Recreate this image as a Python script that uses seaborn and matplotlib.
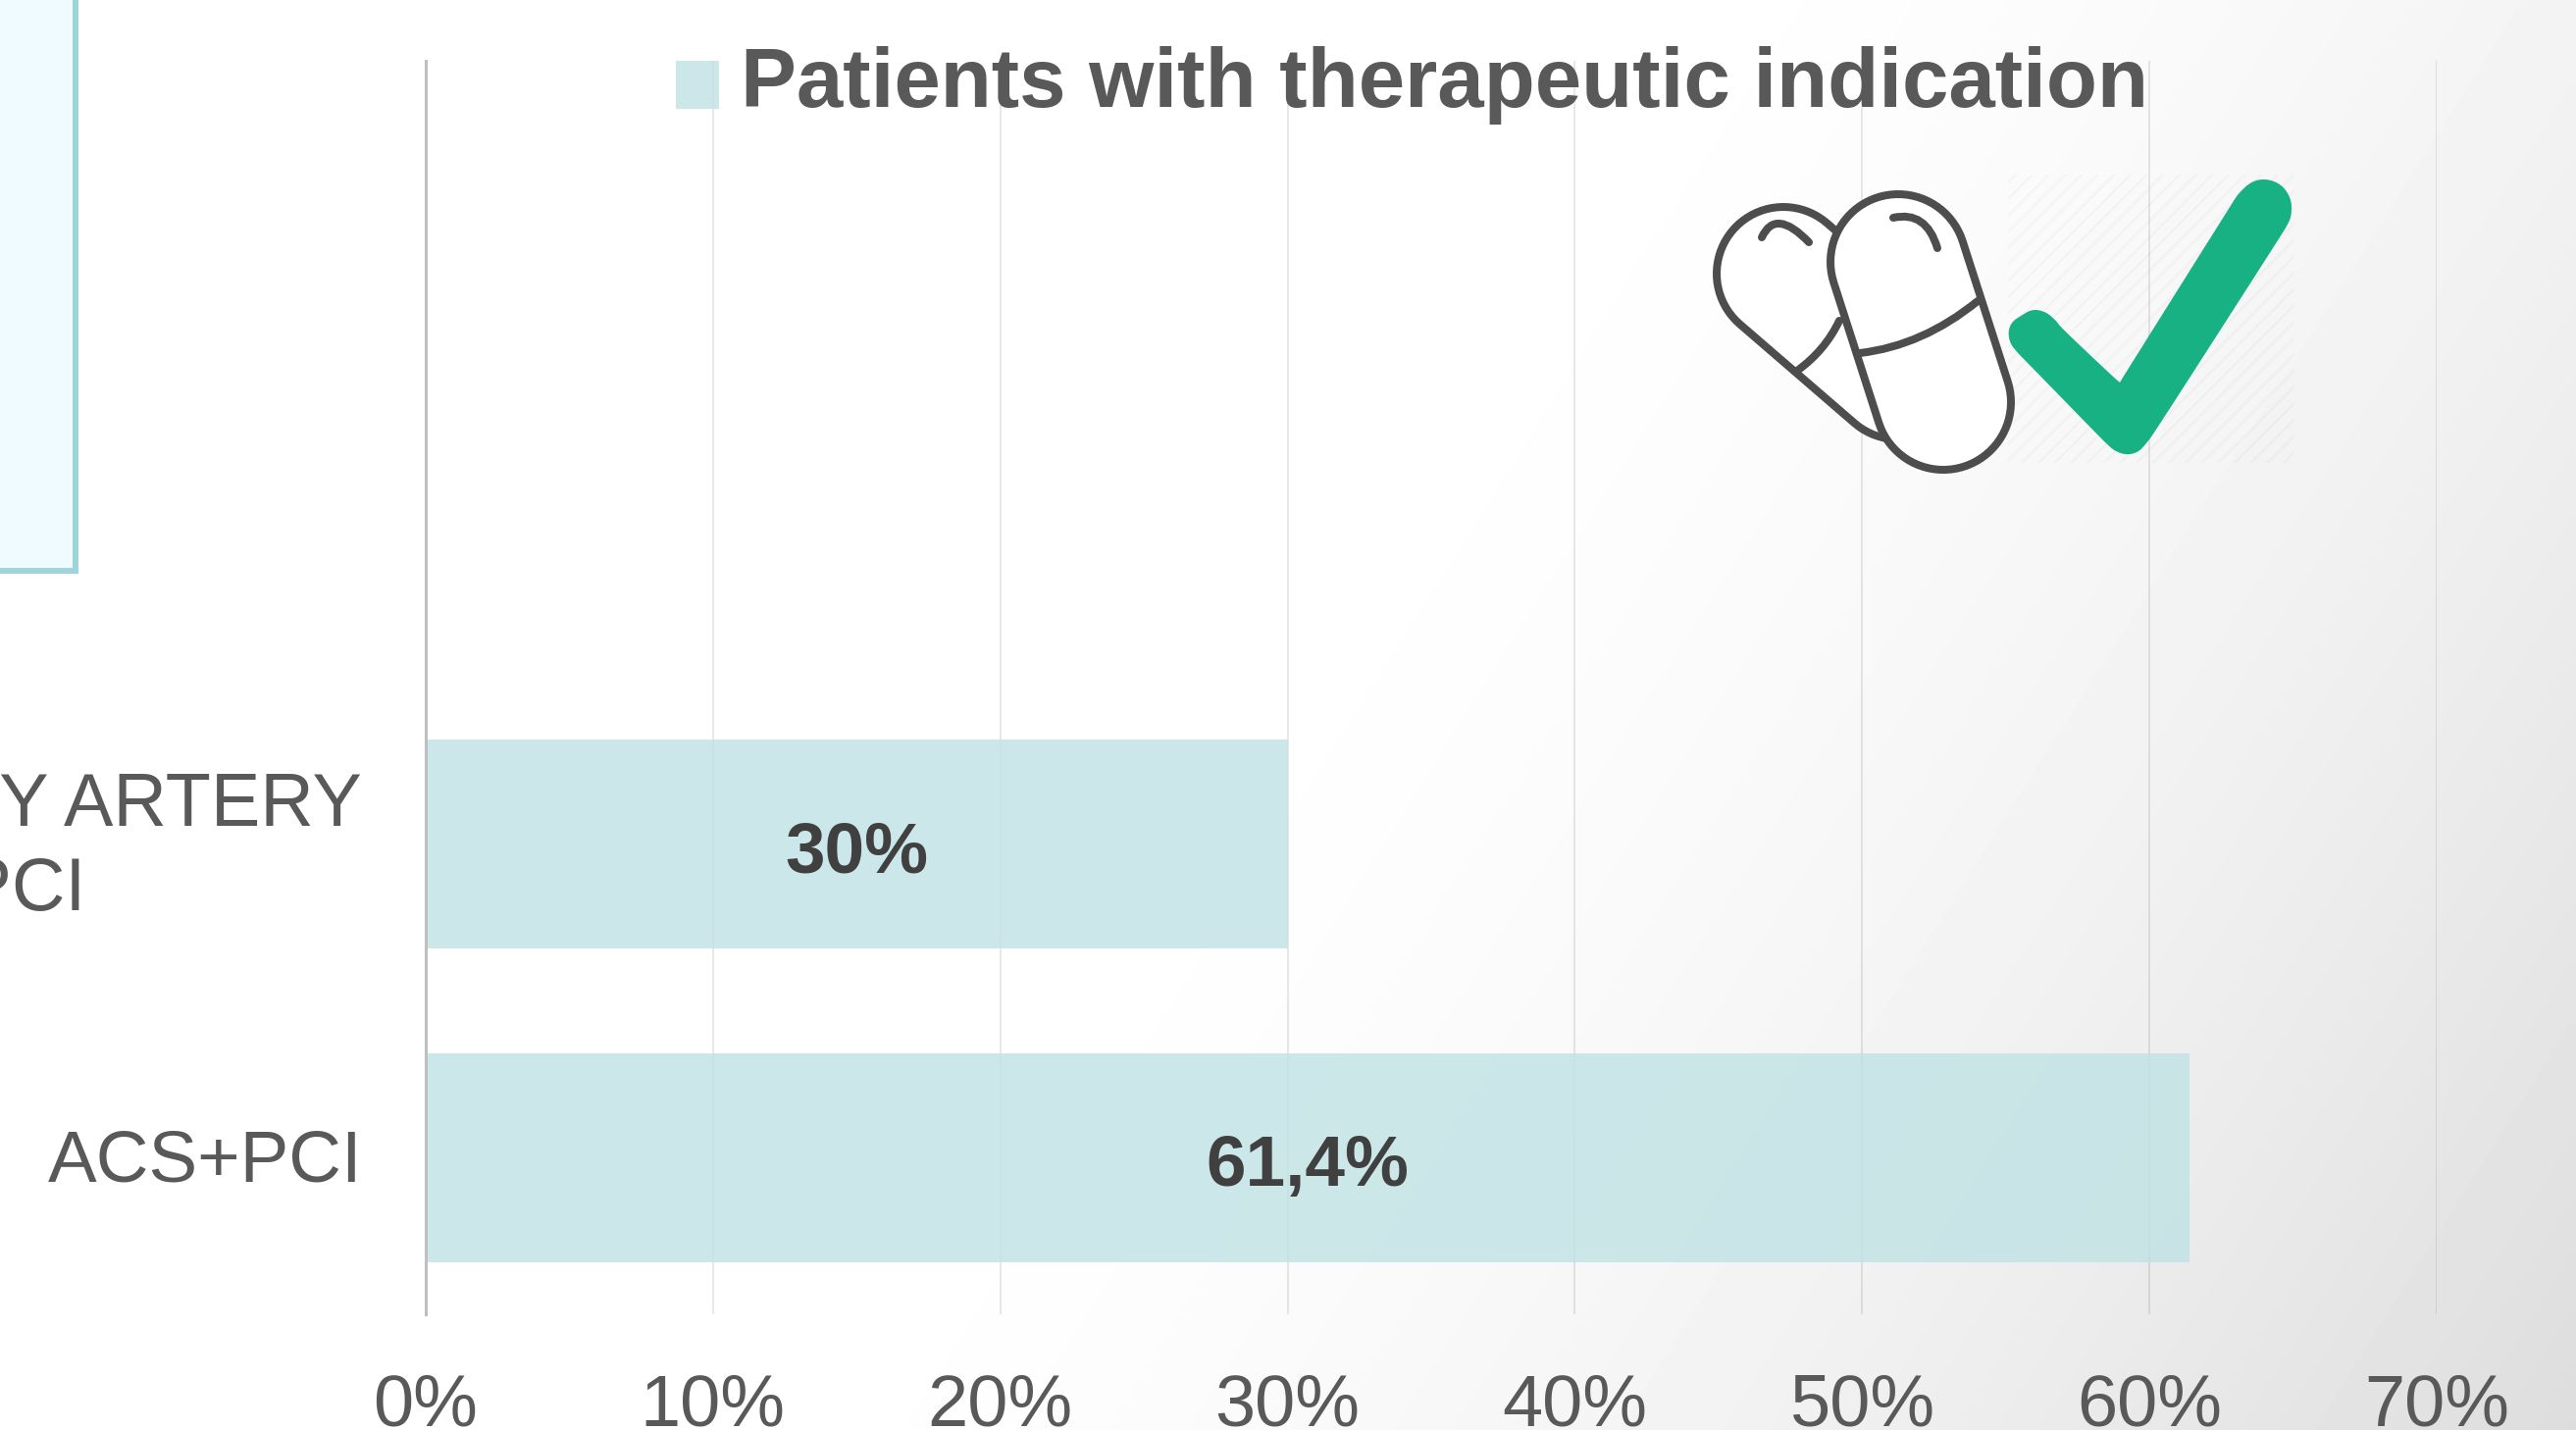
import numpy as np
import pandas as pd
import matplotlib
matplotlib.use("Agg")
import matplotlib.pyplot as plt
import seaborn as sns
from matplotlib.path import Path
from matplotlib.patches import PathPatch, Polygon, Rectangle
from matplotlib.transforms import ScaledTranslation

# chart values (top two rows have no bar in the picture)
groups = ["", " ", "STABLE CORONARY ARTERY\nDISEASE+PCI", "ACS+PCI"]
shares = [np.nan, np.nan, 0.30, 0.614]
value_labels = ["", "", "30%", "61,4%"]
x_ticks = [0, 0.1, 0.2, 0.3, 0.4, 0.5, 0.6, 0.7]
x_tick_labels = ["0%", "10%", "20%", "30%", "40%", "50%", "60%", "70%"]
legend_label = "Patients with therapeutic indication"

W, H = 2626, 1458
DPI = 100


def pt(px):
    return px * 72 / DPI


sns.set_theme(style="white")
plt.rcParams["font.family"] = ["Liberation Sans", "DejaVu Sans"]
plt.rcParams["hatch.linewidth"] = 1.8

fig = plt.figure(figsize=(W / DPI, H / DPI), dpi=DPI, facecolor="white")

# =========================
# BACKGROUND GRADIENT
# =========================
bg = fig.add_axes([0, 0, 1, 1], zorder=0)
yy, xx = np.mgrid[0:H:200j, 0:W:300j]
t = np.clip((xx / W + 0.35 * yy / H - 0.62) / 0.73, 0, 1)
bg.imshow(255 - 34 * t ** 1.6, cmap="gray", vmin=0, vmax=255, aspect="auto",
          extent=[0, W, H, 0], interpolation="bilinear")
bg.axis("off")

# =========================
# BAR CHART
# =========================
ax = fig.add_axes([434 / W, 1 - 1340 / H, 2050 / W, 1278 / H], zorder=1)
ax.patch.set_alpha(0)

df = pd.DataFrame({"group": groups, "share": shares})
sns.barplot(data=df, x="share", y="group", order=groups, color="#C0E2E4",
            saturation=1, alpha=0.8, width=0.667, linewidth=0, label=legend_label, ax=ax)

ax.set_xlim(0, 0.7)
ax.set_xticks(x_ticks)
ax.set_xticklabels(x_tick_labels, fontsize=pt(74), color="#595959")
ax.set_xlabel("")
ax.set_ylabel("")
ax.tick_params(axis="x", length=0, pad=pt(59))
ax.tick_params(axis="y", length=0, pad=pt(65))
for label, size, lift in zip(ax.get_yticklabels(), [74, 74, 75.5, 74.5], [0, 0, 11, 3]):
    label.set_fontsize(pt(size))
    label.set_color("#595959")
    label.set_multialignment("center")
    label.set_linespacing(1.28)
    label.set_transform(label.get_transform()
                        + ScaledTranslation(0, pt(lift) / 72, fig.dpi_scale_trans))

ax.set_axisbelow(True)
ax.grid(axis="x", color="black", alpha=0.09, linewidth=pt(2))
sns.despine(ax=ax, top=True, right=True, bottom=True, left=False)
ax.spines["left"].set_color("#BFBFBF")
ax.spines["left"].set_linewidth(pt(3))

for row, (value, text) in enumerate(zip(shares, value_labels)):
    if text:
        ax.text(value / 2, row + 0.03, text, ha="center", va="center",
                fontsize=pt(73), fontweight="bold", color="#404040")

legend = ax.legend(loc="upper left", bbox_to_anchor=(680 / W, 1 - 38 / H),
                   bbox_transform=fig.transFigure, frameon=False,
                   handlelength=0.52, handleheight=0.5, handletextpad=0.26,
                   borderaxespad=0, borderpad=0.1, labelcolor="#595959",
                   prop={"weight": "bold", "size": pt(85.3)})
# square sits a little lower than the text in the reference
square = legend.legend_handles[0]
square.set_y(square.get_y() - pt(8))

# =========================
# ANNOTATION LAYER IN PIXELS
# =========================
over = fig.add_axes([0, 0, 1, 1], zorder=2)
over.set_xlim(0, W)
over.set_ylim(H, 0)
over.axis("off")

# box cut off by the left edge
over.add_patch(Rectangle((-20, -20), 97, 602, facecolor="#EFFBFE",
                         edgecolor="#9DD5DB", linewidth=pt(6)))

# hatched square behind the tick
over.add_patch(Rectangle((2047, 178), 292, 294, facecolor="none", edgecolor=(0, 0, 0, 0.022),
                         hatch="//", linewidth=0))


def capsule(x0, y0, x1, y1, r):
    ang = np.arctan2(y1 - y0, x1 - x0)
    a1 = np.linspace(ang + np.pi / 2, ang + 3 * np.pi / 2, 40)
    a2 = np.linspace(ang - np.pi / 2, ang + np.pi / 2, 40)
    xs = np.r_[x0 + r * np.cos(a1), x1 + r * np.cos(a2)]
    ys = np.r_[y0 + r * np.sin(a1), y1 + r * np.sin(a2)]
    return np.c_[xs, ys]


def curve(a, mid, b, width=pt(8)):
    a, mid, b = np.array(a), np.array(mid), np.array(b)
    ctrl = 2 * mid - (a + b) / 2
    path = Path([a, ctrl, b], [Path.MOVETO, Path.CURVE3, Path.CURVE3])
    over.add_patch(PathPatch(path, facecolor="none", edgecolor=PILL, linewidth=width,
                             capstyle="round"))


def chaikin(points, rounds=2):
    # corner cutting, rounds off the outline of the tick
    for _ in range(rounds):
        nxt = np.roll(points, -1, axis=0)
        points = np.c_[0.75 * points + 0.25 * nxt, 0.25 * points + 0.75 * nxt].reshape(-1, 2)
    return points


PILL = "#4D4D4D"
over.add_patch(Polygon(capsule(1818, 279, 1935, 380, 68), closed=True, facecolor="white",
                       edgecolor=PILL, linewidth=pt(8)))
curve((1875, 327), (1857, 355), (1832, 378))
curve((1796, 242), (1815, 228), (1844, 247))
over.add_patch(Polygon(capsule(1935, 267, 1981, 410, 69), closed=True, facecolor="white",
                       edgecolor=PILL, linewidth=pt(8)))
curve((2016, 307), (1958, 343), (1896, 360))
curve((1930, 222), (1958, 226), (1975, 253))

# green tick, the inner corner is repeated so it stays sharp
tick = np.array([(2060, 322), (2072, 315), (2086, 318), (2097, 328), (2100, 333),
                 (2154, 384), (2161, 390), (2161, 390), (2161, 390), (2167, 380),
                 (2275, 208), (2282, 197), (2295, 185), (2310, 182), (2326, 188),
                 (2336, 203), (2336, 220), (2332, 229), (2326, 239), (2195, 443),
                 (2188, 452), (2180, 461), (2168, 464), (2156, 460), (2148, 453),
                 (2140, 445), (2065, 368), (2057, 360), (2049, 350), (2047, 338),
                 (2051, 328)], dtype=float)
over.add_patch(Polygon(chaikin(tick), closed=True, facecolor="#17B183", edgecolor="none"))

fig.savefig("out.png", dpi=DPI)
plt.close(fig)
